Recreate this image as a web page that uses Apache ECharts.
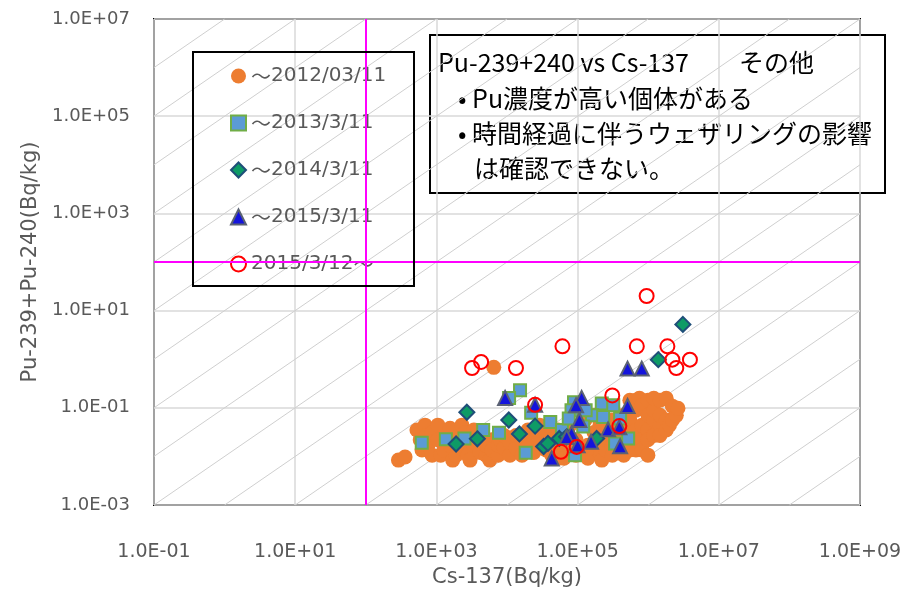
<!DOCTYPE html>
<html>
<head>
<meta charset="utf-8">
<title>Pu-239+240 vs Cs-137</title>
<script src="https://cdn.jsdelivr.net/npm/echarts@6/dist/echarts.min.js"></script>
<style>
  html, body { margin: 0; padding: 0; background: #fff; }
  #chart { width: 915px; height: 590px; }
</style>
</head>
<body>
<div id="chart"></div>
<script>
// 凡例の名前
const seriesNames = ['～2012/03/11', '～2013/3/11', '～2014/3/11', '～2015/3/11', '2015/3/12～'];

// [Cs-137, Pu-239+240] (Bq/kg)
const until2012 = [
  [290, 0.0084], [360, 0.0097], [530, 0.035], [590, 0.022], [625, 0.0135], [690, 0.044],
  [720, 0.027], [760, 0.017], [870, 0.0106], [870, 0.031], [1050, 0.022], [1050, 0.044],
  [1150, 0.0106], [1280, 0.0135], [1280, 0.027], [1560, 0.038], [1560, 0.017], [1700, 0.0084],
  [1900, 0.0106], [1900, 0.024], [2300, 0.044], [2300, 0.015], [2550, 0.031], [2800, 0.0106],
  [2800, 0.022], [3000, 0.0084], [3400, 0.017], [3400, 0.035], [4150, 0.012], [4150, 0.022],
  [5050, 0.0106], [5050, 0.017], [5700, 0.0084], [6100, 0.022], [6100, 0.0135], [7500, 0.0106],
  [7500, 0.017], [8000, 0.022], [9100, 0.015], [9100, 0.027], [11000, 0.0106], [11000, 0.0197],
  [13400, 0.015], [13400, 0.027], [16300, 0.022], [16300, 0.0106], [19800, 0.017], [19800, 0.035],
  [24000, 0.031], [24000, 0.012], [29000, 0.022], [29000, 0.044], [36000, 0.035], [36000, 0.0135],
  [36000, 0.022], [43000, 0.022], [43000, 0.0106], [53000, 0.015], [53000, 0.035], [53000, 0.0092],
  [64000, 0.0092], [64000, 0.022], [78000, 0.0135], [78000, 0.044], [95000, 0.022], [95000, 0.0106],
  [115000, 0.012], [127000, 0.056], [140000, 0.017], [140000, 0.0092], [170000, 0.015], [171000, 0.031],
  [180000, 0.07], [207000, 0.044], [210000, 0.0106], [210000, 0.022], [220000, 0.0084], [250000, 0.0135],
  [250000, 0.022], [307000, 0.056], [310000, 0.017], [310000, 0.027], [310000, 0.0106], [370000, 0.022],
  [370000, 0.012], [370000, 0.044], [450000, 0.035], [450000, 0.017], [450000, 0.0106], [450000, 0.07],
  [550000, 0.056], [550000, 0.022], [550000, 0.143], [550000, 0.0135], [670000, 0.0135], [670000, 0.035],
  [670000, 0.089], [670000, 0.143], [750000, 0.157], [820000, 0.044], [820000, 0.022], [820000, 0.113],
  [820000, 0.0135], [990000, 0.035], [990000, 0.07], [990000, 0.0106], [990000, 0.022], [990000, 0.143],
  [1200000, 0.056], [1200000, 0.027], [1200000, 0.089], [1200000, 0.157], [1470000, 0.044], [1470000, 0.07],
  [1470000, 0.027], [1470000, 0.143], [1800000, 0.157], [1800000, 0.056], [1800000, 0.035], [2000000, 0.044],
  [2200000, 0.108], [2200000, 0.056], [2500000, 0.07], [2640000, 0.098], [6500, 0.68]
];
const until2013 = [
  [15300, 0.23], [10700, 0.16], [22000, 0.079], [41000, 0.051], [89000, 0.13], [82000, 0.089],
  [220000, 0.122], [320000, 0.113], [160000, 0.07], [230000, 0.065], [4600, 0.035], [7700, 0.0305],
  [2500, 0.0234], [1360, 0.0225], [620, 0.019], [18400, 0.0119], [92000, 0.0106], [520000, 0.0234],
  [340000, 0.0185], [120000, 0.041], [400000, 0.06], [60000, 0.035], [130000, 0.089], [75000, 0.06]
];
const until2014 = [
  [3100000, 5.2], [1390000, 0.98], [2700, 0.081], [10600, 0.056], [25000, 0.042], [15000, 0.029],
  [3800, 0.023], [1900, 0.018], [33000, 0.016], [38000, 0.0185], [55000, 0.0234], [70000, 0.0253],
  [186000, 0.0234]
];
const until2015 = [
  [510000, 0.64], [810000, 0.64], [9400, 0.16], [25000, 0.115], [114000, 0.16], [95000, 0.113],
  [510000, 0.109], [106000, 0.056], [82000, 0.0297], [270000, 0.036], [390000, 0.04], [100000, 0.017],
  [155000, 0.02], [400000, 0.0162], [43000, 0.0091], [70000, 0.025]
];
const after2015 = [
  [950000, 20], [61000, 1.84], [690000, 1.84], [1870000, 1.84], [2200000, 0.98], [2500000, 0.66],
  [3900000, 0.98], [3200, 0.66], [4300, 0.88], [13400, 0.66], [310000, 0.18], [25000, 0.115],
  [390000, 0.042], [58000, 0.0124], [97000, 0.0157]
];

// 軸範囲と基準線
const xRange = [1e-1, 1e9];
const yRange = [1e-3, 1e7];
const refX = 100;
const refY = 100;
// 斜線 (Pu/Cs = 10^n)
const ratioExps = [-12, -11, -10, -9, -8, -7, -6, -5, -4, -3, -2, -1, 0, 1, 2, 3, 4, 5, 6, 7, 8];

// テキストボックス
const noteLines = ['Pu-239+240 vs Cs-137　　その他', '• Pu濃度が高い個体がある', '• 時間経過に伴うウェザリングの影響', 'は確認できない。'];

const fmt = v => {
  const e = Math.round(Math.log10(v));
  return '1.0E' + (e < 0 ? '-' : '+') + String(Math.abs(e)).padStart(2, '0');
};

const guideSeries = ratioExps.map(n => {
  const r = Math.pow(10, n);
  const x0 = Math.max(xRange[0], yRange[0] / r);
  const x1 = Math.min(xRange[1], yRange[1] / r);
  return {
    type: 'line', silent: true, symbol: 'none', z: 1, clip: true,
    lineStyle: { color: '#cfcfcf', width: 1 },
    data: [[x0, x0 * r], [x1, x1 * r]]
  };
});

const axisFont = { fontFamily: 'DejaVu Sans', color: '#595959' };
const noteFont = '25px "Noto Sans CJK JP"';

const chart = echarts.init(document.getElementById('chart'));
const option = {
  animation: false,
  grid: {
    left: 154, right: 55, top: 19, bottom: 85, outerBoundsMode: 'none', containLabel: false,
    show: true, borderColor: '#000', borderWidth: 2, backgroundColor: 'transparent'
  },
  legend: {
    orient: 'vertical', left: 225, top: 59, itemWidth: 15, itemHeight: 15, itemGap: 23,
    data: seriesNames,
    formatter: name => name.replace(/～/g, '{t|～}'),
    textStyle: {
      fontFamily: 'DejaVu Sans', fontSize: 20, color: '#595959', lineHeight: 24,
      rich: { t: { fontFamily: 'Noto Sans CJK JP', fontSize: 20, color: '#595959', lineHeight: 24 } }
    }
  },
  xAxis: {
    type: 'log', logBase: 10, min: xRange[0], max: xRange[1], interval: 2,
    name: 'Cs-137(Bq/kg)', nameLocation: 'middle', nameGap: 62,
    nameTextStyle: { ...axisFont, fontSize: 21 },
    axisLine: { show: false }, axisTick: { show: false },
    axisLabel: { ...axisFont, fontSize: 19, margin: 38, formatter: fmt },
    splitLine: { show: true, lineStyle: { color: '#d9d9d9', width: 1.5 } }
  },
  yAxis: {
    type: 'log', logBase: 10, min: yRange[0], max: yRange[1], interval: 2,
    name: 'Pu-239+Pu-240(Bq/kg)', nameLocation: 'middle', nameGap: 110,
    nameTextStyle: { ...axisFont, fontSize: 21 },
    axisLine: { show: false }, axisTick: { show: false },
    axisLabel: { ...axisFont, fontSize: 18, margin: 24, formatter: fmt },
    splitLine: { show: true, lineStyle: { color: '#d9d9d9', width: 1.5 } }
  },
  graphic: [
    { type: 'rect', z: 50, shape: { x: 193, y: 52, width: 221, height: 234 },
      style: { fill: 'none', stroke: '#000', lineWidth: 2 } },
    { type: 'group', z: 100, children: [
      { type: 'rect', shape: { x: 430, y: 35, width: 455, height: 158 },
        style: { fill: '#fff', stroke: '#000', lineWidth: 2 } },
      { type: 'text', x: 438, y: 62, style: { text: noteLines[0], font: noteFont, fill: '#000', verticalAlign: 'middle' } },
      { type: 'text', x: 458, y: 98, style: { text: noteLines[1], font: noteFont, fill: '#000', verticalAlign: 'middle' } },
      { type: 'text', x: 458, y: 133, style: { text: noteLines[2], font: noteFont, fill: '#000', verticalAlign: 'middle' } },
      { type: 'text', x: 474, y: 168, style: { text: noteLines[3], font: noteFont, fill: '#000', verticalAlign: 'middle' } }
    ] }
  ],
  series: [
    ...guideSeries,
    { name: seriesNames[0], type: 'scatter', symbol: 'circle', symbolSize: 15, z: 3,
      itemStyle: { color: '#ED7D31', opacity: 1 }, data: until2012 },
    { name: seriesNames[1], type: 'scatter', symbol: 'rect', symbolSize: 12, z: 4,
      itemStyle: { color: '#5B9BD5', borderColor: '#70AD47', borderWidth: 2, opacity: 1 }, data: until2013 },
    { name: seriesNames[2], type: 'scatter', symbol: 'diamond', symbolSize: 15, z: 5,
      itemStyle: { color: '#0E9B66', borderColor: '#1F4E79', borderWidth: 2, opacity: 1 }, data: until2014 },
    { name: seriesNames[3], type: 'scatter', symbol: 'triangle', symbolSize: 14, z: 6,
      itemStyle: { color: '#1414DC', borderColor: '#5B6273', borderWidth: 2, opacity: 1 }, data: until2015 },
    { name: seriesNames[4], type: 'scatter', symbol: 'circle', symbolSize: 14, z: 7,
      itemStyle: { color: 'rgba(255,255,255,0)', borderColor: '#FF0000', borderWidth: 2, opacity: 1 }, data: after2015,
      markLine: {
        silent: true, symbol: 'none', label: { show: false },
        lineStyle: { color: '#FF00FF', width: 2, type: 'solid' },
        data: [{ xAxis: refX }, { yAxis: refY }]
      } }
  ]
};
chart.setOption(option);
</script>
</body>
</html>
